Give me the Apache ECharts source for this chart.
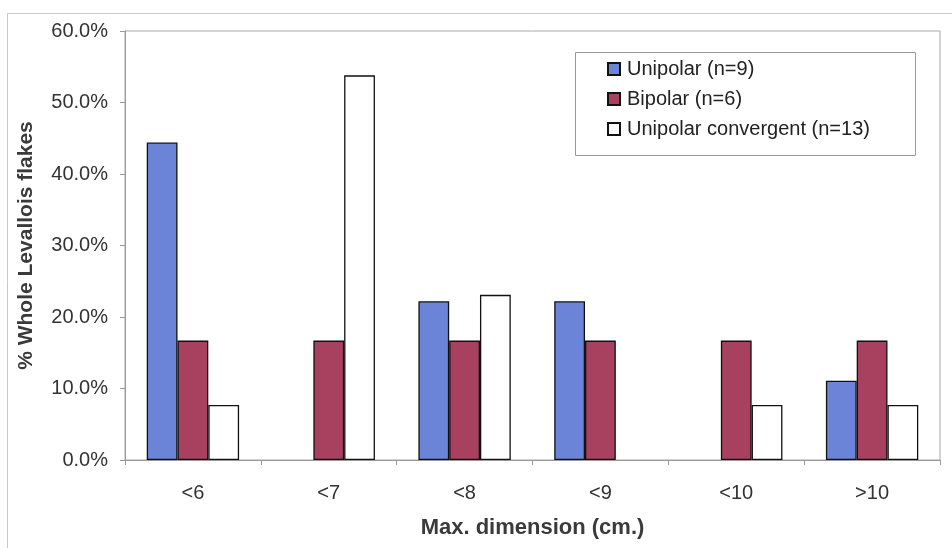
<!DOCTYPE html>
<html>
<head>
<meta charset="utf-8">
<script src="https://cdn.jsdelivr.net/npm/echarts@6/dist/echarts.min.js"></script>
<style>
  html, body { margin: 0; padding: 0; background: #ffffff; }
  #chart { width: 952px; height: 548px; }
</style>
</head>
<body>
<div id="chart"></div>
<script>
// Size classes of whole Levallois flakes (max. dimension, cm)
const categories = ['<6', '<7', '<8', '<9', '<10', '>10'];

// Percentage of each scar-pattern group falling in each size class
const unipolar = [44.4, 0, 22.2, 22.2, 0, 11.1];          // n = 9
const bipolar = [16.7, 16.7, 16.7, 16.7, 16.7, 16.7];      // n = 6
const unipolarConvergent = [7.7, 53.8, 23.1, 0, 7.7, 7.7]; // n = 13

const seriesNames = ['Unipolar (n=9)', 'Bipolar (n=6)', 'Unipolar convergent (n=13)'];
const yTicks = [0, 10, 20, 30, 40, 50, 60];

const chart = echarts.init(document.getElementById('chart'), null, { renderer: 'canvas' });

const font = 'Arial, "Liberation Sans", sans-serif';

function barSeries(name, data, color) {
  return {
    name: name,
    type: 'bar',
    // empty classes get no outline, so nothing shows on the baseline
    data: data.map(function (v) {
      return v === 0 ? { value: 0, itemStyle: { borderWidth: 0, opacity: 0 } } : v;
    }),
    barGap: '0%',
    barCategoryGap: '32%',
    itemStyle: { color: color, borderColor: '#111111', borderWidth: 1.3 },
    emphasis: { disabled: true }
  };
}

chart.setOption({
  animation: false,
  backgroundColor: '#ffffff',
  graphic: [{
    type: 'rect',
    shape: { x: 7.5, y: 13.5, width: 960, height: 560 },
    style: { fill: 'none', stroke: '#c8c8c8', lineWidth: 1 },
    silent: true,
    z: -1
  }, {
    // legend frame
    type: 'rect',
    shape: { x: 575.5, y: 52.5, width: 340, height: 103 },
    style: { fill: '#ffffff', stroke: '#9a9a9a', lineWidth: 1 },
    silent: true,
    z: 5
  }],
  grid: {
    left: 125, right: 12, top: 31, bottom: 88,
    outerBoundsMode: 'none',
    containLabel: false,
    show: true, borderColor: '#a8a8a8', borderWidth: 1, backgroundColor: 'transparent'
  },
  legend: {
    data: seriesNames,
    orient: 'vertical',
    left: 607, top: 58,
    padding: 0,
    itemWidth: 12, itemHeight: 12,
    itemGap: 8,
    icon: 'rect',
    z: 10,
    textStyle: { fontFamily: font, fontSize: 20, lineHeight: 22, color: '#222222', padding: [0, 0, 0, 2] },
    selectedMode: false
  },
  xAxis: {
    type: 'category',
    data: categories,
    name: 'Max. dimension (cm.)',
    nameLocation: 'middle',
    nameGap: 57,
    nameTextStyle: { fontFamily: font, fontSize: 22, fontWeight: 'bold', color: '#3a3a3a' },
    axisLine: { lineStyle: { color: '#9a9a9a', width: 1 } },
    axisTick: { show: true, length: 5, lineStyle: { color: '#9a9a9a' } },
    axisLabel: { fontFamily: font, fontSize: 20, color: '#333333', margin: 23 }
  },
  yAxis: {
    type: 'value',
    min: yTicks[0],
    max: yTicks[yTicks.length - 1],
    interval: 10,
    name: '% Whole Levallois flakes',
    nameLocation: 'middle',
    nameGap: 88,
    nameTextStyle: { fontFamily: font, fontSize: 21, fontWeight: 'bold', color: '#3a3a3a' },
    axisLine: { show: true, lineStyle: { color: '#9a9a9a', width: 1 } },
    axisTick: { show: true, length: 5, lineStyle: { color: '#9a9a9a' } },
    splitLine: { show: false },
    axisLabel: {
      fontFamily: font, fontSize: 20, color: '#333333', margin: 17,
      formatter: function (v) { return v.toFixed(1) + '%'; }
    }
  },
  series: [
    barSeries(seriesNames[0], unipolar, '#6b84d8'),
    barSeries(seriesNames[1], bipolar, '#a8405f'),
    barSeries(seriesNames[2], unipolarConvergent, '#ffffff')
  ]
});
</script>
</body>
</html>
